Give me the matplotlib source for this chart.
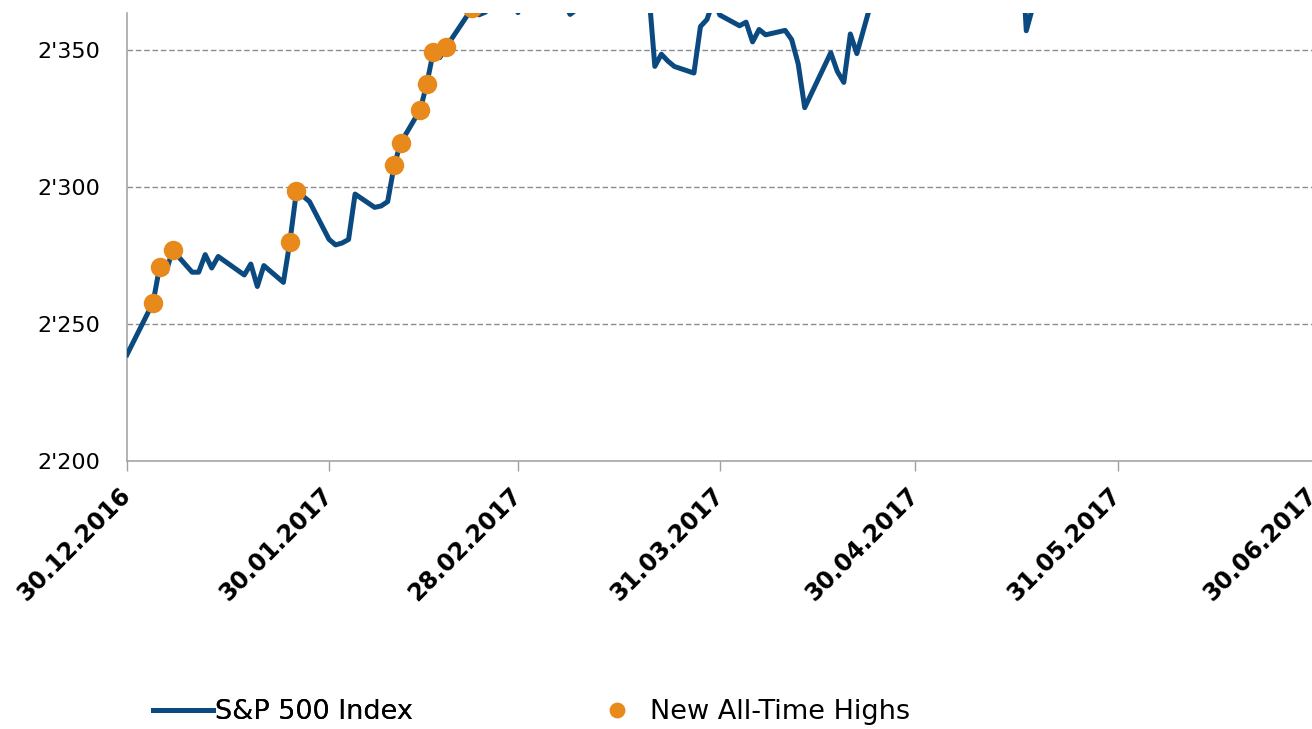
import matplotlib
matplotlib.use('agg')
import matplotlib.pyplot as plt
import matplotlib.ticker as mticker
import pandas as pd

# S&P 500 daily closes, 30.12.2016 - 30.06.2017
dec_days = [30]
dec_close = [2238.83]
jan_days = [3, 4, 5, 6, 9, 10, 11, 12, 13, 17, 18, 19, 20, 23, 24, 25, 26, 27, 30, 31]
jan_close = [2257.83, 2270.75, 2269.00, 2276.98, 2268.90, 2268.90, 2275.32, 2270.44, 2274.64, 2267.89,
             2271.89, 2263.69, 2271.31, 2265.20, 2280.07, 2298.37, 2296.68, 2294.69, 2280.90, 2278.87]
feb_days = [1, 2, 3, 6, 7, 8, 9, 10, 13, 14, 15, 16, 17, 21, 22, 23, 24, 27, 28]
feb_close = [2279.55, 2280.85, 2297.42, 2292.56, 2293.08, 2294.67, 2307.87, 2316.10, 2328.25, 2337.58,
             2349.25, 2347.22, 2351.16, 2365.38, 2362.82, 2363.81, 2367.34, 2369.75, 2363.64]
mar_days = [1, 2, 3, 6, 7, 8, 9, 10, 13, 14, 15, 16, 17, 20, 21, 22, 23, 24, 27, 28, 29, 30, 31]
mar_close = [2395.96, 2381.92, 2383.12, 2375.31, 2368.39, 2362.98, 2364.87, 2372.60, 2373.47, 2365.45,
             2385.26, 2381.38, 2378.25, 2373.47, 2344.02, 2348.45, 2345.96, 2343.98, 2341.59, 2358.57,
             2361.13, 2368.06, 2362.72]
apr_days = [3, 4, 5, 6, 7, 10, 11, 12, 13, 17, 18, 19, 20, 21, 24, 25, 26, 27, 28]
apr_close = [2358.84, 2360.16, 2352.95, 2357.49, 2355.54, 2357.16, 2353.78, 2344.93, 2328.95, 2349.01,
             2342.19, 2338.17, 2355.84, 2348.69, 2374.15, 2388.61, 2387.45, 2388.77, 2384.20]
may_days = [1, 2, 3, 4, 5, 8, 9, 10, 11, 12, 15, 16, 17, 18, 19, 22, 23, 24, 25, 26, 30, 31]
may_close = [2388.33, 2391.17, 2388.13, 2389.52, 2399.29, 2399.38, 2396.92, 2399.63, 2394.44, 2390.90,
             2402.32, 2400.67, 2357.03, 2365.72, 2381.73, 2394.02, 2398.42, 2404.39, 2415.07, 2415.82,
             2412.91, 2411.80]
jun_days = [1, 2, 5, 6, 7, 8, 9, 12, 13, 14, 15, 16, 19, 20, 21, 22, 23, 26, 27, 28, 29, 30]
jun_close = [2430.06, 2439.07, 2436.10, 2429.33, 2433.14, 2433.79, 2431.77, 2429.39, 2440.35, 2437.92,
             2432.46, 2433.15, 2453.46, 2437.03, 2435.61, 2434.50, 2438.30, 2439.07, 2419.38, 2440.69,
             2419.70, 2423.41]

ath_dates = ['2017-01-03', '2017-01-04', '2017-01-06', '2017-01-24', '2017-01-25', '2017-02-09',
             '2017-02-10', '2017-02-13', '2017-02-14', '2017-02-15', '2017-02-17', '2017-02-21',
             '2017-02-24', '2017-02-27', '2017-03-01', '2017-05-15', '2017-05-25', '2017-05-26',
             '2017-06-01', '2017-06-02', '2017-06-13', '2017-06-19']

tick_dates = ['2016-12-30', '2017-01-30', '2017-02-28', '2017-03-31', '2017-04-30', '2017-05-31', '2017-06-30']
tick_labels = ['30.12.2016', '30.01.2017', '28.02.2017', '31.03.2017', '30.04.2017', '31.05.2017', '30.06.2017']
y_ticks = [2200, 2250, 2300, 2350]

months = [(2016, 12, dec_days, dec_close), (2017, 1, jan_days, jan_close), (2017, 2, feb_days, feb_close),
          (2017, 3, mar_days, mar_close), (2017, 4, apr_days, apr_close), (2017, 5, may_days, may_close),
          (2017, 6, jun_days, jun_close)]
dates = []
closes = []
for yr, mo, dd, cc in months:
    for d, c in zip(dd, cc):
        dates.append(pd.Timestamp(yr, mo, d))
        closes.append(c)
s = pd.Series(closes, index=dates)
ath = s[pd.to_datetime(ath_dates)]

blue = '#0b4a80'
orange = '#e8891c'

fig = plt.figure(figsize=(13.12, 7.29), dpi=100)
ax = fig.add_axes([127/1312, 1 - 461/729, 1186/1312, 448/729])

line, = ax.plot(s.index, s.values, color=blue, lw=3.6, solid_joinstyle='round', zorder=3)
pts, = ax.plot(ath.index, ath.values, 'o', color=orange, ms=13, mec=orange, zorder=4)

ax.set_xlim(pd.Timestamp('2016-12-30'), pd.Timestamp('2017-06-30'))
ax.set_ylim(2200, 2363.5)

ax.set_yticks(y_ticks)
ax.yaxis.set_major_formatter(mticker.FuncFormatter(lambda v, p: f"{v:,.0f}".replace(',', "'")))
ax.tick_params(axis='y', length=0, pad=19, labelsize=16)
ax.yaxis.grid(True, color='#8c8c8c', lw=1, linestyle=(0, (4, 2)))

ax.set_xticks(pd.to_datetime(tick_dates))
ax.set_xticklabels(tick_labels, rotation=45, ha='right', va='center', rotation_mode='anchor',
                   fontsize=17, fontweight='bold')
ax.tick_params(axis='x', length=7, width=1, color='#a0a0a0', pad=15)

for side in ['top', 'right']:
    ax.spines[side].set_visible(False)
for side in ['left', 'bottom']:
    ax.spines[side].set_color('#a6a6a6')
    ax.spines[side].set_linewidth(1.2)

leg1 = fig.legend([line], ['S&P 500 Index'], loc='center left', bbox_to_anchor=(153/1312, 1 - 712/729),
                  frameon=False, borderpad=0, borderaxespad=0, handlelength=2.2, handletextpad=0.1,
                  fontsize=19.5)
leg2 = fig.legend([pts], ['New All-Time Highs'], loc='center left', bbox_to_anchor=(603/1312, 1 - 712/729),
                  frameon=False, borderpad=0, borderaxespad=0, handlelength=1.0, handletextpad=0.75,
                  fontsize=19.5, markerscale=0.8)
fig.add_artist(leg1)

plt.savefig('out.png', dpi=100)
plt.close()
